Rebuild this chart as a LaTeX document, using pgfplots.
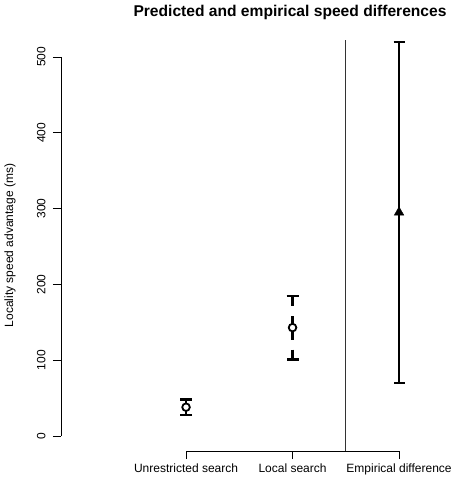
\documentclass[border=0pt]{standalone}
\usepackage{pgfplots}
\pgfplotsset{compat=1.18}
\usepackage{fontspec}
\setmainfont{Liberation Sans}

\begin{document}
\begin{tikzpicture}[x=1pt,y=1pt]
\path[use as bounding box] (0,0) rectangle (454,485);
\begin{axis}[
  at={(61pt,34pt)}, anchor=south west,
  scale only axis, width=393pt, height=411pt,
  xmin=-0.174, xmax=3.516, ymin=-19.8, ymax=522.4,
  axis lines*=left, axis line style={draw=none},
  clip=false,
  xtick={1,2,3},
  xticklabels={Unrestricted search,Local search,Empirical difference},
  ytick={0,100,...,500},
  tick align=outside, major tick length=8pt,
  tick style={black, line width=0.8pt},
  ticklabel style={font=\fontsize{12}{14}\selectfont},
  yticklabel style={rotate=90, anchor=south},
  yticklabel shift=4pt,
  xticklabel shift=1pt,
  /pgf/number format/assume math mode=true,
  ylabel={Locality speed advantage (ms)},
  ylabel style={font=\fontsize{12}{14}\selectfont, at={(axis description cs:-0.13,0.5)}, anchor=center, rotate=0},
]
% predicted: unrestricted and local search
\addplot[only marks, mark=*, mark size=3.8pt,
  mark options={draw=black, fill=white, line width=1.8pt, solid},
  error bars/.cd, y dir=both, y explicit,
  error bar style={black, line width=2.5pt, dash pattern=on 12pt off 10pt},
  error mark options={black, solid, line width=2.5pt, mark size=6pt, rotate=90}]
coordinates {
  (1,38)  += (0,10) -= (0,10)
  (2,143) += (0,42) -= (0,42)
};
% empirical
\addplot[only marks, mark=triangle*, mark size=5.5pt,
  mark options={black, fill=black},
  error bars/.cd, y dir=both, y explicit,
  error bar style={black, line width=2.8pt},
  error mark options={black, line width=2.5pt, mark size=5.5pt, rotate=90}]
coordinates {
  (3,295) += (0,225) -= (0,225)
};
\draw[line width=0.8pt] (axis cs:1,-19.8) -- (axis cs:3,-19.8);
\draw[line width=0.8pt] (axis cs:-0.174,0) -- (axis cs:-0.174,500);
\draw[line width=0.8pt, black!80] (axis cs:2.5,-19.8) -- (axis cs:2.5,522.4);
\end{axis}
\node[font=\bfseries\fontsize{15.6}{18}\selectfont] at (290,473) {Predicted and empirical speed differences};
\end{tikzpicture}
\end{document}
